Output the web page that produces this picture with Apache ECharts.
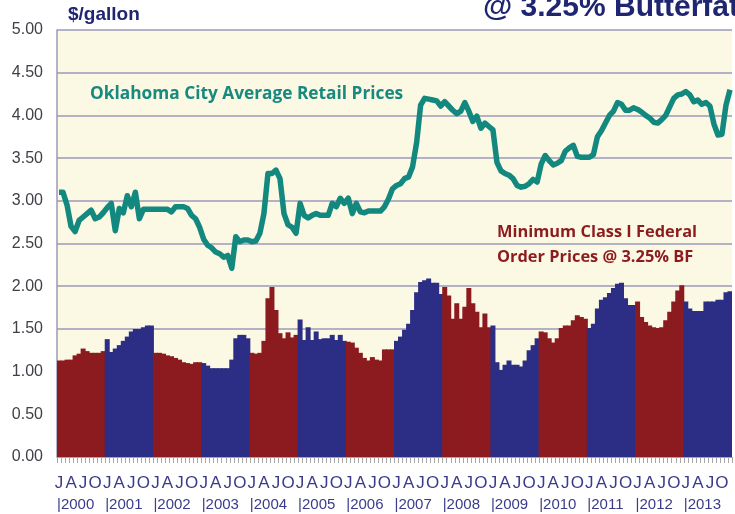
<!DOCTYPE html>
<html>
<head>
<meta charset="utf-8">
<script src="https://cdn.jsdelivr.net/npm/echarts/dist/echarts.min.js"></script>
<style>
html, body { margin: 0; padding: 0; background: #fff; }
#chart { width: 735px; height: 514px; }
</style>
</head>
<body>
<div id="chart"></div>
<script>
// years shown on the axis
const years = [2000, 2001, 2002, 2003, 2004, 2005, 2006, 2007, 2008, 2009, 2010, 2011, 2012, 2013];
const quarterLetters = ['J', 'A', 'J', 'O'];
const yTicks = [0, 0.5, 1, 1.5, 2, 2.5, 3, 3.5, 4, 4.5, 5];

// Oklahoma City average retail prices, $/gallon, monthly
const retailPrices = [
  3.10, 3.10, 2.95, 2.70, 2.64, 2.77, 2.81, 2.85, 2.89, 2.79, 2.81, 2.86, // 2000
  2.92, 2.97, 2.65, 2.91, 2.86, 3.06, 2.93, 3.10, 2.79, 2.90, 2.90, 2.90, // 2001
  2.90, 2.90, 2.90, 2.90, 2.87, 2.93, 2.93, 2.93, 2.91, 2.83, 2.79, 2.69, // 2002
  2.55, 2.48, 2.45, 2.40, 2.38, 2.34, 2.36, 2.21, 2.58, 2.52, 2.54, 2.54, // 2003
  2.52, 2.53, 2.62, 2.85, 3.32, 3.32, 3.36, 3.26, 2.85, 2.72, 2.69, 2.62, // 2004
  2.97, 2.83, 2.80, 2.83, 2.85, 2.83, 2.83, 2.83, 2.97, 2.93, 3.03, 2.97, // 2005
  3.03, 2.85, 2.97, 2.87, 2.86, 2.88, 2.88, 2.88, 2.88, 2.93, 3.02, 3.14, // 2006
  3.18, 3.20, 3.26, 3.28, 3.40, 3.68, 4.12, 4.20, 4.19, 4.18, 4.17, 4.11, // 2007
  4.16, 4.11, 4.06, 4.02, 4.05, 4.15, 4.05, 3.93, 3.99, 3.85, 3.91, 3.87, // 2008
  3.83, 3.45, 3.35, 3.32, 3.30, 3.26, 3.18, 3.16, 3.17, 3.20, 3.25, 3.22, // 2009
  3.43, 3.53, 3.47, 3.42, 3.44, 3.47, 3.58, 3.62, 3.65, 3.52, 3.51, 3.51, // 2010
  3.51, 3.54, 3.75, 3.82, 3.91, 4.00, 4.05, 4.15, 4.13, 4.06, 4.06, 4.09, // 2011
  4.07, 4.04, 4.00, 3.97, 3.92, 3.91, 3.95, 4.00, 4.10, 4.20, 4.24, 4.25, // 2012
  4.28, 4.24, 4.16, 4.18, 4.13, 4.15, 4.11, 3.90, 3.77, 3.78, 4.12, 4.30  // 2013
];

// minimum Class I federal order prices @ 3.25% BF, $/gallon, monthly
const classIPrices = [
  1.13, 1.13, 1.14, 1.14, 1.19, 1.21, 1.27, 1.24, 1.22, 1.22, 1.22, 1.24, // 2000
  1.38, 1.23, 1.27, 1.31, 1.36, 1.41, 1.47, 1.50, 1.50, 1.52, 1.54, 1.54, // 2001
  1.22, 1.22, 1.21, 1.19, 1.18, 1.16, 1.14, 1.11, 1.10, 1.09, 1.11, 1.11, // 2002
  1.10, 1.07, 1.04, 1.04, 1.04, 1.04, 1.04, 1.14, 1.39, 1.43, 1.43, 1.39, // 2003
  1.22, 1.21, 1.22, 1.36, 1.86, 1.99, 1.72, 1.45, 1.39, 1.46, 1.40, 1.43, // 2004
  1.61, 1.37, 1.52, 1.37, 1.47, 1.38, 1.39, 1.39, 1.43, 1.37, 1.43, 1.36, // 2005
  1.35, 1.34, 1.28, 1.22, 1.16, 1.13, 1.17, 1.14, 1.13, 1.26, 1.26, 1.26, // 2006
  1.36, 1.41, 1.49, 1.56, 1.72, 1.93, 2.05, 2.07, 2.09, 2.04, 2.04, 1.91, // 2007
  1.99, 1.89, 1.62, 1.80, 1.62, 1.76, 1.98, 1.80, 1.70, 1.52, 1.68, 1.52, // 2008
  1.54, 1.11, 1.02, 1.08, 1.13, 1.08, 1.08, 1.06, 1.13, 1.25, 1.31, 1.39, // 2009
  1.47, 1.46, 1.39, 1.34, 1.39, 1.51, 1.54, 1.54, 1.60, 1.66, 1.64, 1.62, // 2010
  1.51, 1.56, 1.74, 1.84, 1.87, 1.92, 1.98, 2.03, 2.04, 1.86, 1.78, 1.78, // 2011
  1.82, 1.64, 1.58, 1.54, 1.52, 1.51, 1.52, 1.60, 1.70, 1.82, 1.95, 2.01, // 2012
  1.82, 1.74, 1.71, 1.71, 1.71, 1.82, 1.82, 1.82, 1.84, 1.84, 1.93, 1.94  // 2013
];

const RED = '#8c1b1f';
const BLUE = '#2c2e85';
const GRID_LINE = '#9d9abb';
const AXIS_TEXT = '#3b3b8a';
const sans = 'Liberation Sans, Arial, sans-serif';

const months = [];
years.forEach(y => {
  for (let m = 1; m <= 12; m++) months.push(y + '-' + m);
});
// one extra boundary so the year row has a slot per year
const yearSlots = years.concat([years[years.length - 1] + 1]);

const chart = echarts.init(document.getElementById('chart'));

chart.setOption({
  animation: false,
  backgroundColor: '#fff',
  grid: {
    left: 57, right: -5, top: 30, bottom: 57,
    show: true, backgroundColor: '#fbf8e3', borderWidth: 0
  },
  xAxis: [
    {
      type: 'category',
      data: months,
      boundaryGap: true,
      axisLine: { show: true, lineStyle: { color: '#a3a3a3', width: 1 } },
      axisTick: { show: true, interval: 0, length: 6, lineStyle: { color: '#a8a8a8' } },
      axisLabel: {
        interval: 2,
        formatter: (v, i) => quarterLetters[(i / 3) % 4],
        margin: 18,
        fontSize: 17,
        color: AXIS_TEXT,
        fontFamily: sans
      }
    },
    {
      type: 'category',
      data: yearSlots,
      boundaryGap: false,
      position: 'bottom',
      offset: 0,
      axisLine: { show: false },
      axisTick: { show: false },
      axisLabel: {
        interval: 0,
        hideOverlap: false,
        align: 'left',
        margin: 40,
        formatter: (v, i) => (i < years.length ? '|' + v : ''),
        fontSize: 15,
        color: AXIS_TEXT,
        fontFamily: sans
      }
    }
  ],
  yAxis: {
    type: 'value',
    min: yTicks[0],
    max: yTicks[yTicks.length - 1],
    interval: 0.5,
    axisLine: { show: true, lineStyle: { color: GRID_LINE, width: 1.5 } },
    axisTick: { show: false },
    splitLine: { show: true, lineStyle: { color: GRID_LINE, width: 1.5 } },
    axisLabel: {
      formatter: v => v.toFixed(2),
      margin: 14,
      fontSize: 16,
      color: '#404048',
      fontFamily: sans
    }
  },
  series: [
    {
      name: 'Minimum Class I Federal Order Prices @ 3.25% BF',
      type: 'bar',
      data: classIPrices,
      barWidth: 5,
      barGap: '0%',
      itemStyle: {
        color: p => (Math.floor(p.dataIndex / 12) % 2 === 0 ? RED : BLUE)
      },
      z: 2
    },
    {
      name: 'Oklahoma City Average Retail Prices',
      type: 'line',
      data: retailPrices,
      symbol: 'none',
      lineStyle: { color: '#12887e', width: 5.5, join: 'round' },
      z: 3
    }
  ],
  graphic: [
    {
      type: 'text', left: 483, top: -7, z: 10,
      style: { text: '@ 3.25% Butterfat', fill: '#1f2570', font: 'bold 30px "Liberation Sans", Arial, sans-serif' }
    },
    {
      type: 'text', left: 68, top: 5, z: 10,
      style: { text: '$/gallon', fill: '#1f2570', font: 'bold 19px "Liberation Sans", Arial, sans-serif' }
    },
    {
      type: 'text', left: 90, top: 86, z: 10,
      style: { text: 'Oklahoma City Average Retail Prices', fill: '#17897f', font: 'bold 17.3px "Open Sans", Lato, sans-serif' }
    },
    {
      type: 'text', left: 497, top: 224, z: 10,
      style: { text: 'Minimum Class I Federal', fill: RED, font: 'bold 16.4px "Open Sans", Lato, sans-serif' }
    },
    {
      type: 'text', left: 497, top: 249, z: 10,
      style: { text: 'Order Prices @ 3.25% BF', fill: RED, font: 'bold 16.4px "Open Sans", Lato, sans-serif' }
    }
  ]
});
</script>
</body>
</html>
